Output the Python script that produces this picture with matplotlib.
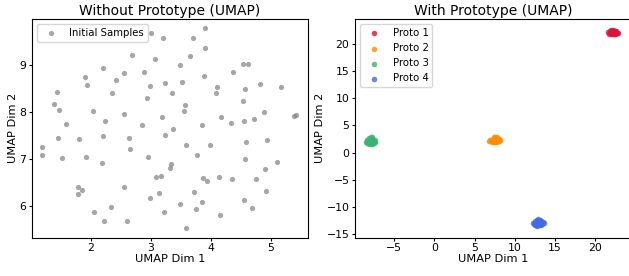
import matplotlib
matplotlib.use('Agg')
import matplotlib.pyplot as plt

# Muestras iniciales (sin prototipo)
init_x = [1.19, 1.19, 1.38, 1.43, 1.46, 1.45, 1.52, 1.58, 1.80, 1.79,
          1.85, 1.79, 1.90, 1.93, 1.92, 2.04, 2.05, 2.20, 2.20, 2.19,
          2.23, 2.22, 2.41, 2.35, 2.34, 2.56, 2.56, 2.56, 2.60, 2.68,
          2.63, 2.66, 2.88, 2.85, 3.00, 2.94, 2.98, 2.95, 2.98, 3.07,
          3.08, 3.17, 3.13, 3.20, 3.23, 3.18, 3.23, 3.22, 3.35, 3.37,
          3.34, 3.32, 3.49, 3.52, 3.57, 3.56, 3.58, 3.48, 3.59, 3.71,
          3.66, 3.77, 3.72, 3.75, 3.91, 3.90, 3.89, 3.85, 3.87, 3.93,
          3.86, 3.98, 4.11, 4.08, 4.18, 4.14, 4.15, 4.37, 4.34, 4.35,
          4.54, 4.62, 4.57, 4.54, 4.56, 4.59, 4.57, 4.56, 4.69, 4.72,
          4.76, 4.83, 4.89, 4.90, 4.94, 4.93, 5.10, 5.17, 5.39, 5.43]
init_y = [7.24, 7.07, 8.16, 8.43, 8.03, 7.44, 7.01, 7.74, 7.42, 6.39,
          6.34, 6.24, 8.75, 8.57, 7.04, 8.01, 5.86, 8.94, 7.49, 6.90,
          7.81, 5.68, 8.68, 8.41, 5.97, 8.82, 7.96, 6.39, 5.68, 9.21,
          7.44, 7.21, 8.86, 7.72, 9.69, 8.29, 8.55, 7.04, 6.16, 9.12,
          6.62, 6.64, 6.27, 9.58, 8.62, 7.90, 7.51, 5.86, 8.41, 7.63,
          6.88, 6.81, 8.99, 8.64, 8.14, 8.01, 7.29, 6.04, 5.53, 9.58,
          9.20, 7.08, 6.29, 5.92, 9.78, 9.37, 8.76, 7.72, 6.59, 6.52,
          6.07, 7.29, 8.53, 8.40, 7.88, 6.61, 5.79, 8.86, 7.76, 6.57,
          9.02, 9.01, 8.49, 8.24, 7.81, 7.36, 6.99, 6.11, 5.94, 7.85,
          6.57, 8.60, 8.00, 6.78, 7.39, 6.31, 6.92, 8.54, 7.92, 7.94]

# Muestras con prototipo (4 grupos)
red_x = [21.6, 21.8, 22.0, 22.2, 22.4, 22.6, 22.8, 21.7, 21.9, 22.1,
         22.3, 22.5, 22.7, 21.8, 22.0, 22.2, 22.4, 22.6, 21.9, 22.3]
red_y = [22.2, 22.4, 22.5, 22.5, 22.4, 22.3, 22.1, 21.9, 22.0, 22.2,
         22.1, 21.9, 22.0, 22.2, 21.8, 21.9, 21.8, 22.1, 22.3, 22.3]
orange_x = [6.8, 7.0, 7.2, 7.4, 7.6, 7.8, 8.0, 8.2, 7.1, 7.3,
            7.5, 7.7, 7.9, 8.1, 7.4, 7.6, 7.8, 6.9, 7.2, 7.9]
orange_y = [2.2, 2.1, 2.0, 2.0, 1.9, 2.0, 2.1, 2.3, 2.4, 2.5,
            2.3, 2.4, 2.5, 2.5, 2.8, 2.9, 2.8, 2.4, 2.2, 2.2]
green_x = [-8.5, -8.3, -8.1, -7.9, -7.7, -7.5, -7.4, -8.4, -8.2, -8.0,
           -7.8, -7.6, -7.4, -8.1, -7.9, -7.7, -8.0, -7.8, -7.6, -8.3]
green_y = [2.0, 1.7, 1.5, 1.5, 1.5, 1.7, 2.0, 2.4, 2.2, 2.0,
           2.1, 2.3, 2.4, 2.7, 2.9, 2.8, 2.5, 2.5, 1.9, 2.1]
blue_x = [12.3, 12.5, 12.7, 12.9, 13.1, 13.3, 13.5, 12.4, 12.6, 12.8,
          13.0, 13.2, 13.4, 13.6, 12.6, 12.9, 13.2, 12.8, 13.1, 12.5]
blue_y = [-12.9, -12.6, -12.4, -12.3, -12.4, -12.5, -12.7, -13.2, -13.4, -13.5,
          -13.4, -13.3, -13.1, -12.9, -12.9, -12.8, -12.9, -13.1, -12.6, -13.3]

protos = [
    ('Proto 1', red_x, red_y, 'crimson'),
    ('Proto 2', orange_x, orange_y, 'darkorange'),
    ('Proto 3', green_x, green_y, 'mediumseagreen'),
    ('Proto 4', blue_x, blue_y, 'royalblue'),
]

fig = plt.figure(figsize=(6.29, 2.76), dpi=100)
# posiciones en pixeles / tamaño de la figura (el eje derecho sale del borde)
ax1 = fig.add_axes([31.7 / 629, 38.5 / 276, 276.6 / 629, 218.5 / 276])
ax2 = fig.add_axes([355 / 629, 38.5 / 276, 276.5 / 629, 218.5 / 276])

ax1.scatter(init_x, init_y, s=14, color='gray', alpha=0.7, linewidths=0, label='Initial Samples')
ax1.set_xlim(1.01, 5.63)
ax1.set_ylim(5.32, 9.98)
ax1.set_title('Without Prototype (UMAP)', fontsize=10, pad=3)
ax1.set_xlabel('UMAP Dim 1', fontsize=8.2, labelpad=1)
ax1.set_ylabel('UMAP Dim 2', fontsize=8.2, labelpad=1)
ax1.legend(loc='upper left', fontsize=7.3)

for name, xs, ys, col in protos:
    ax2.scatter(xs, ys, s=16, color=col, alpha=0.8, linewidths=0, label=name)
ax2.set_xlim(-9.85, 24.5)
ax2.set_ylim(-15.63, 24.6)
ax2.set_title('With Prototype (UMAP)', fontsize=10, pad=3)
ax2.set_xlabel('UMAP Dim 1', fontsize=8.2, labelpad=1)
ax2.set_ylabel('UMAP Dim 2', fontsize=8.2, labelpad=1)
ax2.legend(loc='upper left', fontsize=7.3)

for ax in (ax1, ax2):
    ax.tick_params(labelsize=7.8, length=2.5, pad=1.5)

fig.savefig('out.png', dpi=100)
